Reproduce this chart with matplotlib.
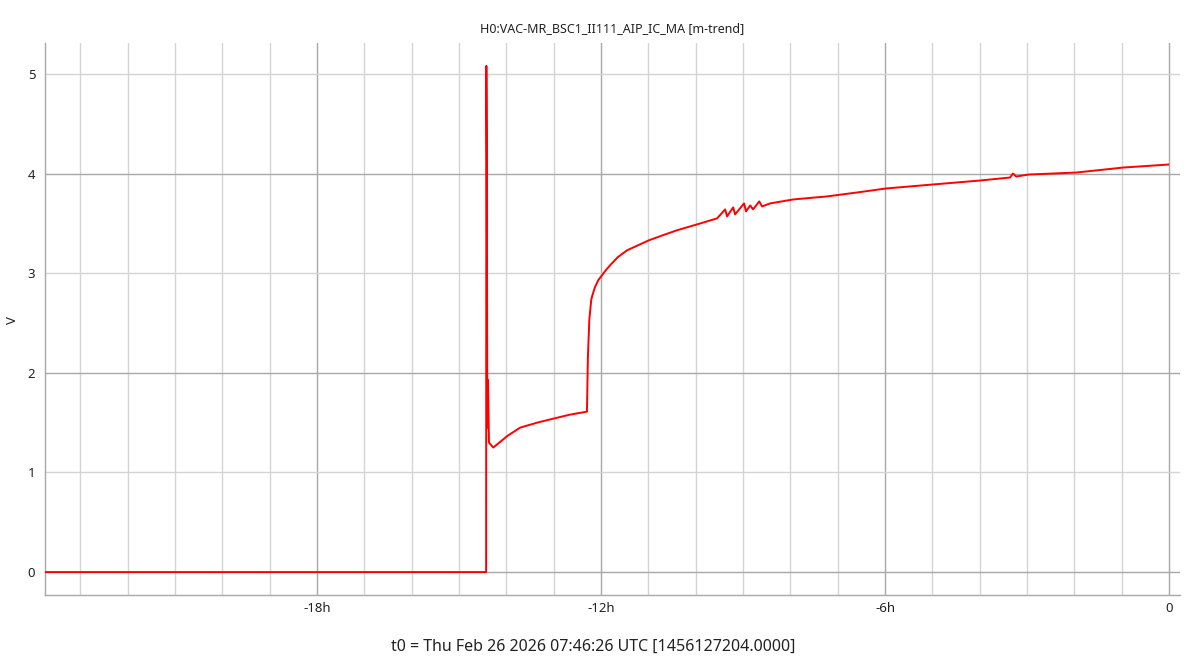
import matplotlib
matplotlib.use("Agg")
import matplotlib.pyplot as plt
from matplotlib.ticker import MultipleLocator, FixedLocator, FuncFormatter

plt.rcParams['font.family'] = ['Noto Sans', 'DejaVu Sans']

title = "H0:VAC-MR_BSC1_II111_AIP_IC_MA [m-trend]"
xlabel = "t0 = Thu Feb 26 2026 07:46:26 UTC [1456127204.0000]"
ylabel = "V"

hours = [-23.75, -14.43, -14.425, -14.415, -14.405, -14.39, -14.37, -14.28,
         -14.15, -13.97, -13.71, -13.35, -13.01, -12.66, -12.30, -12.28, -12.25,
         -12.21, -12.19, -12.13, -12.06, -11.98, -11.90, -11.81, -11.65, -11.45,
         -11.22, -10.99, -10.70, -10.40,
         -9.97, -9.55, -9.38, -9.34, -9.21, -9.17, -8.98, -8.94, -8.85,
         -8.79, -8.66, -8.60, -8.43, -7.94, -7.23, -6.59, -5.98, -4.99,
         -3.99, -3.36, -3.30, -3.23, -2.96, -1.96, -0.97, -0.02]
volts = [0.0, 0.0, 5.08, 4.15, 1.45, 1.93, 1.30, 1.25,
         1.30, 1.37, 1.45, 1.50, 1.54, 1.58, 1.61, 2.15, 2.53,
         2.73, 2.77, 2.86, 2.93, 2.98, 3.03, 3.08, 3.16, 3.23,
         3.28, 3.33, 3.38, 3.43,
         3.49, 3.55, 3.64, 3.57, 3.66, 3.59, 3.70, 3.62, 3.68,
         3.64, 3.72, 3.67, 3.70, 3.74, 3.77, 3.81, 3.85, 3.89,
         3.93, 3.96, 4.00, 3.97, 3.99, 4.01, 4.06, 4.09]

major_x = [-18, -12, -6, 0]
major_x_labels = ["-18h", "-12h", "-6h", "0"]
major_y = [0, 2, 4]
minor_y = [1, 3, 5]

W, H = 1190, 664
fig = plt.figure(figsize=(W / 100, H / 100), dpi=100)
ax = fig.add_axes([45 / W, 1 - 595 / H, (1180 - 45) / W, (595 - 43) / H])

ax.plot(hours, volts, color='#ff0000', lw=1.4, zorder=3)

ax.set_xlim(-23.75, 0.23)
ax.set_ylim(-0.23, 5.31)

ax.xaxis.set_major_locator(FixedLocator(major_x))
ax.set_xticklabels(major_x_labels)
ax.xaxis.set_minor_locator(MultipleLocator(1))
ax.yaxis.set_major_locator(FixedLocator(major_y))
ax.yaxis.set_minor_locator(FixedLocator(minor_y))
ax.yaxis.set_major_formatter(FuncFormatter(lambda v, p: f"{int(v)}"))
ax.yaxis.set_minor_formatter(FuncFormatter(lambda v, p: f"{int(v)}"))

ax.grid(True, which='major', color='#a8a8a8', lw=1.0, zorder=0)
ax.grid(True, which='minor', color='#d4d4d4', lw=1.0, zorder=0)
ax.set_axisbelow(True)

ax.tick_params(axis='both', which='both', length=0, labelsize=9.5, colors='#222222')
ax.tick_params(axis='x', which='both', pad=5)
ax.tick_params(axis='y', which='both', pad=7)

for s in ['top', 'right']:
    ax.spines[s].set_visible(False)
for s in ['left', 'bottom']:
    ax.spines[s].set_color('#a8a8a8')
    ax.spines[s].set_linewidth(1.0)

ax.set_title(title, fontsize=9, color='#222222', pad=8)
fig.text(13 / W, 1 - 320 / H, ylabel, rotation=90, ha='center', va='center',
         fontsize=9.5, color='#222222')
fig.text(593 / W, 1 - 647 / H, xlabel, ha='center', va='center', fontsize=11.5, color='#222222')

fig.savefig("out.png", dpi=100)
